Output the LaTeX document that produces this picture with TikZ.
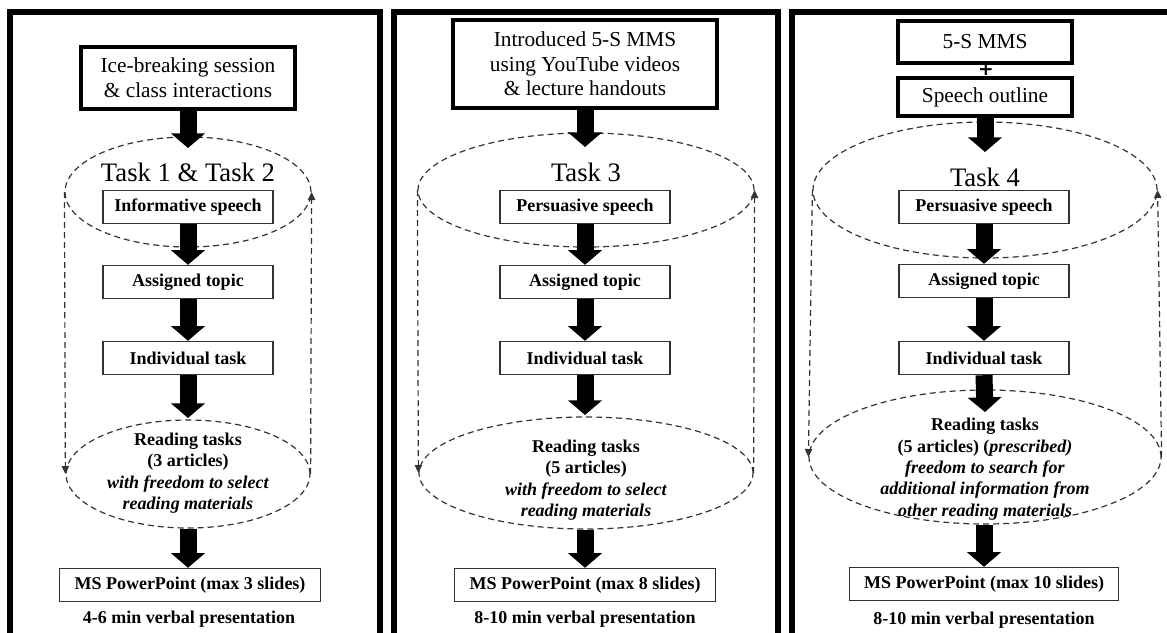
\documentclass[tikz,border=0pt]{standalone}
\usepackage{fontspec}
\setmainfont{Liberation Serif}
\newfontfamily\plusfont{DejaVu Sans}
\usetikzlibrary{arrows.meta,shapes.geometric}
\tikzset{
  panel/.style={line width=4.5pt, line join=miter},
  topbox/.style={draw, line width=3pt, align=center, inner sep=0pt, font=\fontsize{16}{18.5}\selectfont},
  taskbox/.style={draw=black!80, line width=0.8pt, inner sep=0pt, minimum width=127.5pt, minimum height=25pt, font=\bfseries\fontsize{13.5}{16}\selectfont},
  pptbox/.style={taskbox, minimum width=0pt, inner xsep=11pt},
  cyl/.style={draw=black!80, ellipse, inner sep=0pt, line width=0.9pt, dash pattern=on 4.5pt off 3pt},
  tasktitle/.style={inner sep=0pt, font=\fontsize{20}{24}\selectfont},
  readtext/.style={align=center, inner sep=0pt, font=\bfseries\fontsize{13.5}{16}\selectfont},
  bigarrow/.style={line width=12.75pt, -{Triangle[width=25pt,length=11pt]}},
  backline/.style={draw=black!80, line width=0.9pt, dash pattern=on 4.5pt off 3pt, -{Triangle[width=5.5pt,length=6pt]}},
}
\begin{document}
\begin{tikzpicture}[x=0.75pt, y=-0.75pt]
  \useasboundingbox (0,0) rectangle (1167,632);
  \clip (0,0) rectangle (1167,632);
  % panels
  \foreach \l/\r in {10/380, 394/778, 792/1200}
    \draw[panel] (\l,650) -- (\l,12) -- (\r,12) -- (\r,650);

  % panel 1
  \node[topbox, minimum width=160.5pt, minimum height=47pt] (top1) at (188,78) {Ice-breaking session\\\& class interactions};
  \node[cyl, minimum width=184.5pt, minimum height=82.5pt] (ell1a) at (188,192) {};
  \node[tasktitle] (task1) at (188,172) {Task 1 \& Task 2};
  \node[taskbox] (speech1) at (188,207) {Informative speech};
  \node[taskbox] (topic1) at (188,282) {Assigned topic};
  \node[taskbox] (indiv1) at (188,358) {Individual task};
  \node[cyl, minimum width=183pt, minimum height=81pt] (ell1b) at (188,474) {};
  \node[readtext] (read1) at (188,473) {Reading tasks\\(3 articles)\\\textit{with freedom to select}\\\textit{reading materials}};
  \node[pptbox] (ppt1) at (190,585) {MS PowerPoint (max 3 slides)};
  \node[readtext] (talk1) at (189,619) {4-6 min verbal presentation};
  \coordinate (in1) at (188,148);
  \coordinate (rd1) at (188,418);
  \draw[bigarrow] (top1.south) -- (in1);
  \draw[bigarrow] (speech1.south) -- (topic1.north);
  \draw[bigarrow] (topic1.south) -- (indiv1.north);
  \draw[bigarrow] (indiv1.south) -- (rd1);
  \draw[bigarrow] (ell1b.south) -- (ell1b.south |- ppt1.north);
  \draw[backline] (ell1a.west) -- (ell1b.west);
  \draw[backline] (ell1b.east) -- (ell1a.east);

  % panel 2
  \node[topbox, minimum width=198pt, minimum height=66pt] (top2) at (585,64) {Introduced 5-S MMS\\using YouTube videos\\\& lecture handouts};
  \node[cyl, minimum width=252pt, minimum height=85.5pt] (ell2a) at (586,190) {};
  \node[tasktitle] (task2) at (586,172) {Task 3};
  \node[taskbox] (speech2) at (585,207) {Persuasive speech};
  \node[taskbox] (topic2) at (585,282) {Assigned topic};
  \node[taskbox] (indiv2) at (585,358) {Individual task};
  \node[cyl, minimum width=250.5pt, minimum height=84pt] (ell2b) at (586,473) {};
  \node[readtext] (read2) at (586,480) {Reading tasks\\(5 articles)\\\textit{with freedom to select}\\\textit{reading materials}};
  \node[pptbox] (ppt2) at (585,585) {MS PowerPoint (max 8 slides)};
  \node[readtext] (talk2) at (585,619) {8-10 min verbal presentation};
  \coordinate (in2) at (585,147);
  \coordinate (rd2) at (585,415);
  \draw[bigarrow] (top2.south) -- (in2);
  \draw[bigarrow] (speech2.south) -- (topic2.north);
  \draw[bigarrow] (topic2.south) -- (indiv2.north);
  \draw[bigarrow] (indiv2.south) -- (rd2);
  \draw[bigarrow] (ell2b.south -| ppt2.north) -- (ppt2.north);
  \draw[backline] (ell2a.west) -- (ell2b.west);
  \draw[backline] (ell2b.east) -- (ell2a.east);

  % panel 3
  \node[topbox, minimum width=131pt, minimum height=32pt] (mms3) at (985,42) {5-S MMS};
  \node[inner sep=0pt, font=\plusfont\bfseries\fontsize{14}{14}\selectfont] (plus3) at (986,70) {+};
  \node[topbox, minimum width=131pt, minimum height=29pt] (outline3) at (985,97) {Speech outline};
  \node[cyl, minimum width=258pt, minimum height=102pt] (ell3a) at (985,190) {};
  \node[tasktitle] (task3) at (985,177) {Task 4};
  \node[taskbox] (speech3) at (984,207) {Persuasive speech};
  \node[taskbox] (topic3) at (984,281) {Assigned topic};
  \node[taskbox] (indiv3) at (984,358) {Individual task};
  \node[cyl, minimum width=264pt, minimum height=100.5pt] (ell3b) at (985,457) {};
  \node[readtext] (read3) at (985,469) {Reading tasks\\(5 articles) (\textit{prescribed)}\\\textit{freedom to search for}\\\textit{additional information from}\\\textit{other reading materials}};
  \node[pptbox] (ppt3) at (984,584) {MS PowerPoint (max 10 slides)};
  \node[readtext] (talk3) at (984,620) {8-10 min verbal presentation};
  \coordinate (in3) at (985,152);
  \coordinate (rd3) at (985,412);
  \draw[bigarrow] (outline3.south) -- (in3);
  \draw[bigarrow] (speech3.south) -- (topic3.north);
  \draw[bigarrow] (topic3.south) -- (indiv3.north);
  \draw[bigarrow] (indiv3.south) -- (rd3);
  \draw[bigarrow] (ell3b.south -| ppt3.north) -- (ppt3.north);
  \draw[backline] (ell3a.west) -- (ell3b.west);
  \draw[backline] (ell3b.east) -- (ell3a.east);
\end{tikzpicture}
\end{document}
